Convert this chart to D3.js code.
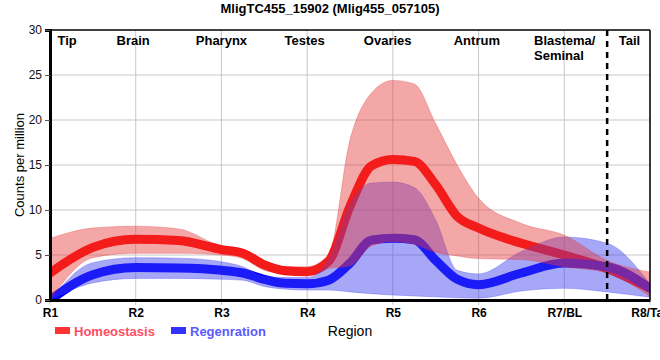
<!DOCTYPE html>
<html>
<head>
<meta charset="utf-8">
<script src="https://cdn.jsdelivr.net/npm/d3@7"></script>
<style>
  html, body { margin: 0; padding: 0; background: #fff; }
  svg { display: block; font-family: "Liberation Sans", Arial, sans-serif; }
</style>
</head>
<body>
<svg id="chart" width="660" height="360"></svg>
<script>
// ---- data ----
const regionTicks = ["R1", "R2", "R3", "R4", "R5", "R6", "R7/BL", "R8/Tail"];
const regionNames = ["Tip", "Brain", "Pharynx", "Testes", "Ovaries", "Antrum", "Blastema/\nSeminal", "Tail"];
const regionNamePos = [1.2, 1.97, 3.0, 3.97, 4.94, 5.98, 6.647, 7.76];
const positions = [1, 1.5, 2, 2.5, 3, 3.25, 3.5, 3.75, 4, 4.25, 4.5, 4.75, 5, 5.25, 5.5, 5.75, 6, 6.5, 7, 7.5, 8];
const homeoMean  = [3.0, 5.85, 6.75, 6.6, 5.6, 5.2, 3.9, 3.25, 3.15, 4.3, 10.4, 14.9, 15.6, 15.4, 12.8, 9.3, 8.0, 6.3, 5.0, 3.5, 1.3];
const homeoUpper = [6.85, 8.0, 8.2, 7.9, 6.0, 5.6, 4.4, 3.7, 3.7, 5.0, 17.8, 23.0, 24.4, 24.0, 19.6, 15.0, 11.3, 8.5, 7.2, 4.4, 3.1];
const homeoLower = [0, 4.7, 5.2, 5.2, 5.0, 4.6, 3.3, 2.9, 2.7, 3.5, 3.8, 6.0, 6.5, 6.2, 5.3, 4.9, 4.6, 4.5, 3.7, 3.0, 0.4];
const regenMean  = [0, 2.8, 3.6, 3.55, 3.3, 3.0, 2.3, 1.85, 1.8, 2.2, 4.1, 6.65, 6.85, 6.7, 4.4, 2.3, 1.7, 3.0, 4.1, 3.7, 1.3];
const regenUpper = [0, 4.15, 4.7, 4.65, 4.25, 3.7, 2.6, 2.5, 2.5, 4.5, 10.7, 13.0, 13.1, 12.5, 8.9, 3.3, 2.9, 5.4, 7.0, 6.3, 1.8];
const regenLower = [0, 1.9, 2.4, 2.4, 2.3, 2.2, 1.5, 1.2, 1.1, 1.1, 0.9, 0.7, 0.55, 0.45, 0.35, 0.25, 0.2, 1.0, 1.3, 0.9, 0.3];
const yTicks = [0, 5, 10, 15, 20, 25, 30];
const dividerPos = 7.5;
const seriesNames = ["Homeostasis", "Regenration"];

// ---- layout ----
const svg = d3.select("#chart");
const L = 50, R = 650, T = 30, B = 300;
const x = d3.scaleLinear().domain([1, 8]).range([L, R]);
const y = d3.scaleLinear().domain([0, 30]).range([B, T]);

svg.append("defs").append("clipPath").attr("id", "clip")
  .append("rect").attr("x", L).attr("y", T).attr("width", R - L).attr("height", B - T);

// title
svg.append("text").attr("x", 330).attr("y", 13).attr("text-anchor", "middle")
  .attr("font-size", 13).attr("font-weight", "bold").text("MligTC455_15902 (Mlig455_057105)");

// grid
const grid = svg.append("g");
grid.selectAll("line.v").data(d3.range(1, 9)).join("line")
  .attr("x1", d => x(d)).attr("x2", d => x(d)).attr("y1", T).attr("y2", B + 5)
  .attr("stroke", "#c8c8c8").attr("stroke-width", 1);
grid.selectAll("line.h").data(yTicks.slice(1, -1)).join("line")
  .attr("x1", L).attr("x2", R).attr("y1", d => y(d)).attr("y2", d => y(d))
  .attr("stroke", "#c8c8c8").attr("stroke-width", 1);

// data
const pts = (arr) => positions.map((p, i) => [p, arr[i]]);
const band = (lo, hi) => positions.map((p, i) => ({ p, lo: lo[i], hi: hi[i] }));
const line = d3.line().x(d => x(d[0])).y(d => y(d[1])).curve(d3.curveMonotoneX);
const area = d3.area().x(d => x(d.p)).y0(d => y(d.lo)).y1(d => y(d.hi)).curve(d3.curveMonotoneX);

const plot = svg.append("g").attr("clip-path", "url(#clip)");
plot.append("path").attr("d", line(pts(homeoMean))).attr("fill", "none")
  .attr("stroke", "#ff0000").attr("stroke-width", 9).attr("stroke-linecap", "round");
plot.append("path").attr("d", line(pts(regenMean))).attr("fill", "none")
  .attr("stroke", "#0000ff").attr("stroke-width", 9).attr("stroke-linecap", "round");
plot.append("path").attr("d", area(band(regenLower, regenUpper)))
  .attr("fill", "rgba(60,60,240,0.45)").attr("stroke", "rgba(60,60,240,0.3)").attr("stroke-width", 1);
plot.append("path").attr("d", area(band(homeoLower, homeoUpper)))
  .attr("fill", "rgba(230,60,60,0.45)").attr("stroke", "rgba(220,50,50,0.3)").attr("stroke-width", 1);

// divider
svg.append("line").attr("x1", x(dividerPos)).attr("x2", x(dividerPos)).attr("y1", T).attr("y2", B + 5)
  .attr("stroke", "#000").attr("stroke-width", 2.5).attr("stroke-dasharray", "6,5");

// frame
svg.append("line").attr("x1", L).attr("x2", R).attr("y1", T).attr("y2", T).attr("stroke", "#000").attr("stroke-width", 1.5);
svg.append("line").attr("x1", R).attr("x2", R).attr("y1", T).attr("y2", B).attr("stroke", "#000").attr("stroke-width", 1.5);

// y axis
const yAxis = svg.append("g").attr("transform", `translate(${L},0)`)
  .call(d3.axisLeft(y).tickValues(yTicks).tickSize(5).tickPadding(3));
yAxis.select(".domain").attr("stroke", "#000").attr("stroke-width", 3);
yAxis.selectAll(".tick line").attr("stroke", "#555");
yAxis.selectAll("text").attr("font-size", 12).attr("font-family", "Liberation Sans, Arial, sans-serif").attr("fill", "#111");

// x axis
const xAxis = svg.append("g").attr("transform", `translate(0,${B})`)
  .call(d3.axisBottom(x).tickValues(d3.range(1, 9)).tickFormat((d, i) => regionTicks[i]).tickSize(0).tickPadding(8));
xAxis.select(".domain").attr("stroke", "#000").attr("stroke-width", 3);
xAxis.selectAll("text").attr("font-size", 12).attr("font-weight", "bold")
  .attr("font-family", "Liberation Sans, Arial, sans-serif").attr("fill", "#000");

// axis titles
svg.append("text").attr("transform", "translate(24,165) rotate(-90)").attr("text-anchor", "middle")
  .attr("font-size", 13).text("Counts per million");
svg.append("text").attr("x", 350).attr("y", 336).attr("text-anchor", "middle")
  .attr("font-size", 14).text("Region");

// region names
const rn = svg.append("g");
regionNames.forEach((name, i) => {
  const parts = name.split("\n");
  const t = rn.append("text").attr("x", x(regionNamePos[i])).attr("y", 45)
    .attr("font-size", 13).attr("font-weight", "bold")
    .attr("text-anchor", parts.length > 1 ? "start" : "middle");
  parts.forEach((p, j) => t.append("tspan").attr("x", x(regionNamePos[i])).attr("dy", j === 0 ? 0 : 15).text(p));
});

// legend
const legend = svg.append("g");
const legendX = [55, 171];
const swatch = ["#ff3333", "#3333ff"];
const legText = ["#ff4d66", "#5a5aff"];
seriesNames.forEach((s, i) => {
  legend.append("rect").attr("x", legendX[i]).attr("y", 327).attr("width", 15).attr("height", 7).attr("fill", swatch[i]);
  legend.append("text").attr("x", legendX[i] + 19).attr("y", 336).attr("font-size", 13).attr("font-weight", "bold")
    .attr("fill", legText[i]).text(s);
});
</script>
</body>
</html>
